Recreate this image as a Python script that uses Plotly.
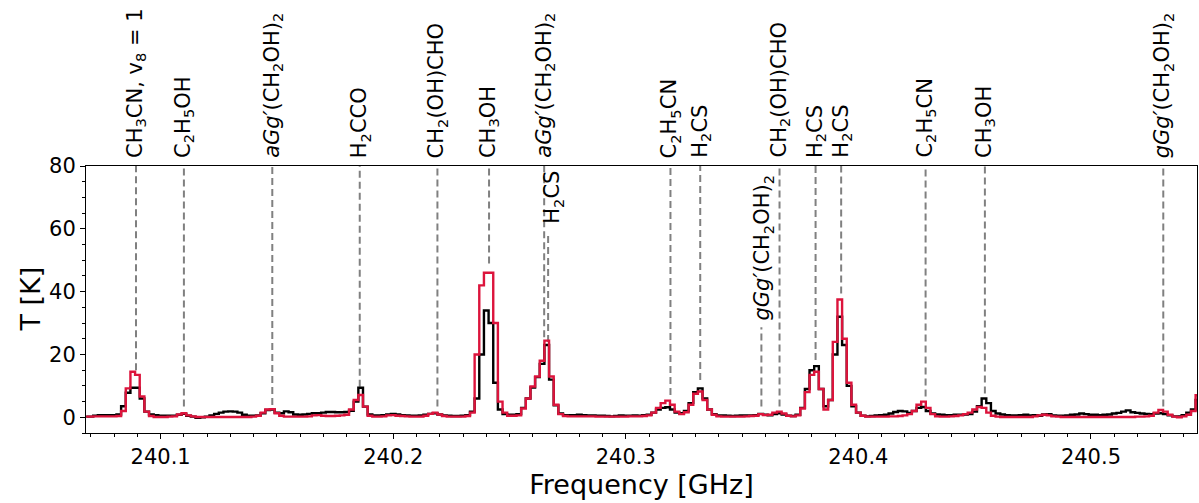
import numpy as np
import plotly.graph_objects as go

# Channel grid (GHz)
F0 = 240.068
DF = 0.002

# Observed spectrum (black), K
t_obs = [
    0.2, 0.2, 0.5, 0.7, 0.7, 0.7, 0.7, 0.9, 3.5, 7.8,
    9.4, 9.4, 6.0, 1.8, 0.9, 0.7, 0.5, 0.5, 0.5, 0.5,
    0.8, 1.1, 0.5, 0.2, -0.2, 0.0, 0.2, 0.6, 1.1, 1.5,
    1.8, 1.9, 1.8, 1.5, 0.8, 0.5, 0.5, 0.6, 1.3, 2.3,
    2.5, 1.5, 1.3, 1.9, 1.6, 0.9, 0.8, 0.9, 1.1, 1.3,
    1.3, 1.5, 1.7, 1.7, 1.6, 1.6, 1.7, 2.1, 5.0, 9.4,
    3.4, 0.9, 0.6, 0.6, 0.7, 0.9, 1.1, 0.9, 0.7, 0.6,
    0.5, 0.5, 0.6, 0.8, 1.1, 1.3, 0.9, 0.6, 0.5, 0.4,
    0.4, 0.5, 0.7, 1.8, 6.0, 20.0, 34.0, 30.0, 11.0, 2.5,
    1.0, 0.8, 0.8, 1.0, 3.0, 6.0, 9.5, 12.8, 17.0, 23.0,
    12.0, 3.8, 1.2, 0.7, 0.7, 0.7, 0.8, 0.7, 0.6, 0.6,
    0.5, 0.5, 0.4, 0.3, 0.4, 0.6, 0.5, 0.5, 0.6, 0.5,
    0.7, 0.8, 1.5, 2.5, 3.0, 3.2, 2.5, 1.5, 1.3, 2.0,
    4.5, 8.0, 9.2, 6.0, 2.5, 1.0, 0.6, 0.6, 0.5, 0.4,
    0.5, 0.6, 0.6, 0.6, 0.7, 1.1, 0.8, 0.6, 1.0, 1.3,
    0.9, 0.5, 0.4, 0.8, 3.0, 9.0, 15.0, 16.3, 9.0, 3.5,
    5.5, 20.0, 32.0, 23.0, 10.0, 3.5, 1.5, 0.5, 0.3, 0.4,
    0.6, 0.7, 0.8, 1.2, 1.7, 2.0, 1.9, 1.4, 2.0, 3.0,
    3.3, 2.0, 1.2, 0.9, 0.8, 0.7, 0.7, 0.8, 0.8, 0.9,
    1.0, 1.8, 3.5, 6.0, 4.5, 2.0, 1.2, 0.9, 0.7, 0.6,
    0.6, 0.7, 0.8, 0.6, 0.7, 0.5, 0.9, 1.0, 0.6, 0.5,
    0.5, 0.6, 0.8, 0.9, 1.2, 1.0, 0.8, 0.8, 0.7, 0.8,
    0.9, 1.2, 1.4, 1.8, 2.2, 1.6, 1.4, 1.2, 1.1, 1.0,
    1.2, 1.3, 1.0, 0.6, 0.3, 0.3, 0.7, 1.5, 2.5, 5.5,
]

# Model spectrum (crimson), K
t_model = [
    0.2, 0.2, 0.3, 0.3, 0.3, 0.3, 0.3, 0.4, 2.0, 9.2,
    14.5, 13.5, 6.6, 1.8, 0.4, 0.1, 0.1, 0.1, 0.2, 0.3,
    0.9, 1.3, 0.6, 0.3, 0.1, 0.1, 0.1, 0.1, 0.1, 0.1,
    0.1, 0.1, 0.1, 0.1, 0.1, 0.1, 0.2, 0.5, 1.5, 2.5,
    2.6, 1.3, 0.5, 0.2, 0.2, 0.2, 0.2, 0.2, 0.3, 0.6,
    0.7, 0.5, 0.4, 0.4, 0.5, 0.6, 0.8, 2.5, 5.5, 7.1,
    3.4, 0.5, 0.2, 0.2, 0.3, 0.6, 0.7, 0.5, 0.4, 0.3,
    0.2, 0.2, 0.2, 0.5, 1.1, 1.5, 0.9, 0.4, 0.2, 0.2,
    0.2, 0.2, 0.4, 1.5, 20.0, 42.0, 46.0, 46.0, 30.0, 5.0,
    1.5, 0.5, 0.5, 0.6, 2.8, 6.0, 9.8, 13.0, 18.0, 24.4,
    13.0, 4.0, 1.0, 0.4, 0.3, 0.3, 0.3, 0.3, 0.3, 0.3,
    0.2, 0.2, 0.2, 0.2, 0.2, 0.2, 0.2, 0.3, 0.3, 0.3,
    0.4, 0.6, 1.5, 3.0, 4.5, 5.3, 4.0, 1.8, 1.0, 1.6,
    4.0, 7.5, 8.2, 5.5, 2.5, 0.8, 0.3, 0.2, 0.2, 0.2,
    0.2, 0.2, 0.3, 0.4, 0.5, 1.0, 0.7, 0.8, 1.5, 1.8,
    1.2, 0.5, 0.3, 0.6, 2.8, 8.0, 13.5, 14.5, 9.0, 2.5,
    5.5, 24.0, 37.5, 25.0, 11.0, 4.0, 1.5, 0.5, 0.2, 0.2,
    0.2, 0.2, 0.2, 0.3, 0.3, 0.4, 0.6, 1.0, 2.0, 4.0,
    5.0, 3.0, 1.0, 0.3, 0.2, 0.2, 0.3, 0.4, 0.6, 1.0,
    1.5, 2.5, 3.3, 3.0, 1.5, 0.5, 0.2, 0.1, 0.1, 0.1,
    0.1, 0.1, 0.1, 0.1, 0.3, 0.6, 0.8, 0.6, 0.3, 0.2,
    0.1, 0.1, 0.1, 0.1, 0.1, 0.1, 0.1, 0.1, 0.1, 0.1,
    0.1, 0.1, 0.1, 0.1, 0.1, 0.1, 0.2, 0.2, 0.3, 0.5,
    1.5, 2.3, 1.8, 0.8, 0.2, 0.0, 0.3, 0.8, 2.0, 7.0,
]

# Line identifications above the axes
top_freqs = [240.0894, 240.1100, 240.1480, 240.1856, 240.2190, 240.2412, 240.2649,
             240.3192, 240.3320, 240.3661, 240.3816, 240.3926, 240.4289, 240.4544, 240.5311]
top_labels = [
    "CH<sub>3</sub>CN, v<sub>8</sub> = 1",
    "C<sub>2</sub>H<sub>5</sub>OH",
    "<i>aGg′</i>(CH<sub>2</sub>OH)<sub>2</sub>",
    "H<sub>2</sub>CCO",
    "CH<sub>2</sub>(OH)CHO",
    "CH<sub>3</sub>OH",
    "<i>aGg′</i>(CH<sub>2</sub>OH)<sub>2</sub>",
    "C<sub>2</sub>H<sub>5</sub>CN",
    "H<sub>2</sub>CS",
    "CH<sub>2</sub>(OH)CHO",
    "H<sub>2</sub>CS",
    "H<sub>2</sub>CS",
    "C<sub>2</sub>H<sub>5</sub>CN",
    "CH<sub>3</sub>OH",
    "<i>gGg′</i>(CH<sub>2</sub>OH)<sub>2</sub>",
]
top_line_ymin = [15.0, 3.4, 3.9, 9.7, 3.4, 49.0, 25.5, 7.1, 11.9, 3.4, 18.2, 39.4, 6.6, 7.6, 3.4]

# Line identifications inside the axes
in_freqs = [240.2666, 240.3583]
in_labels = ["H<sub>2</sub>CS", "<i>gGg′</i>(CH<sub>2</sub>OH)<sub>2</sub>"]
in_line_ymin = [24.0, 3.4]
in_line_ymax = [58.5, 28.7]

freq = F0 + DF * np.arange(len(t_obs))

FONT = "DejaVu Sans"
fig = go.Figure()
fig.add_trace(go.Scatter(x=freq, y=t_obs, mode="lines", line=dict(color="black", width=2.4, shape="hvh"),
                         showlegend=False))
fig.add_trace(go.Scatter(x=freq, y=t_model, mode="lines", line=dict(color="#DC143C", width=2.4, shape="hvh"),
                         showlegend=False))

dash_style = dict(color="#808080", width=2, dash="7px,4px")
for f, y0 in zip(top_freqs, top_line_ymin):
    fig.add_shape(type="line", xref="x", yref="y", x0=f, x1=f, y0=y0, y1=80, line=dash_style, layer="below")
for f, y0, y1 in zip(in_freqs, in_line_ymin, in_line_ymax):
    fig.add_shape(type="line", xref="x", yref="y", x0=f, x1=f, y0=y0, y1=y1, line=dash_style, layer="below")

for f, lab in zip(top_freqs, top_labels):
    fig.add_annotation(x=f, xref="x", y=1, yref="paper", text=lab, textangle=-90, showarrow=False,
                       xanchor="center", yanchor="bottom", yshift=6,
                       font=dict(family=FONT, size=21, color="black"))

fig.add_annotation(x=in_freqs[0], xref="x", y=79, yref="y", text=in_labels[0], textangle=-90, showarrow=False,
                   xanchor="center", yanchor="top", xshift=5, font=dict(family=FONT, size=21, color="black"))
fig.add_annotation(x=in_freqs[1], xref="x", y=30.3, yref="y", text=in_labels[1], textangle=-90, showarrow=False,
                   xanchor="center", yanchor="bottom", xshift=2, font=dict(family=FONT, size=21, color="black"))

# y-axis title placed precisely
fig.add_annotation(x=0, xref="paper", y=0.5, yref="paper", text="T [K]", textangle=-90, showarrow=False,
                   xanchor="center", yanchor="middle", xshift=-56, font=dict(family=FONT, size=27, color="black"))

fig.update_layout(
    width=1199, height=503,
    margin=dict(l=86, r=2, t=166, b=70),
    paper_bgcolor="white", plot_bgcolor="white",
    font=dict(family=FONT, size=20, color="black"),
)
fig.update_xaxes(
    range=[240.0679, 240.5456], showgrid=False, zeroline=False, automargin=False,
    showline=True, linecolor="black", linewidth=1, mirror=True,
    ticks="outside", ticklen=5, tickwidth=1, tickcolor="black",
    tickvals=[240.1, 240.2, 240.3, 240.4, 240.5], ticktext=["240.1", "240.2", "240.3", "240.4", "240.5"],
    minor=dict(ticks="outside", ticklen=3, tickwidth=1, tickcolor="black", dtick=0.01, tick0=240.0),
    tickfont=dict(family=FONT, size=21),
    title=dict(text="Frequency [GHz]", font=dict(family=FONT, size=27), standoff=4),
)
fig.update_yaxes(
    range=[-5, 80], showgrid=False, zeroline=False, automargin=False,
    showline=True, linecolor="black", linewidth=1, mirror=True,
    ticks="outside", ticklen=5, tickwidth=1, tickcolor="black",
    tickvals=[0, 20, 40, 60, 80],
    minor=dict(ticks="outside", ticklen=3, tickwidth=1, tickcolor="black", dtick=5, tick0=0),
    tickfont=dict(family=FONT, size=21),
)

fig.write_html("out.html", config={"displayModeBar": False},
               post_script="document.body.style.margin='0px';document.body.style.padding='0px';")
